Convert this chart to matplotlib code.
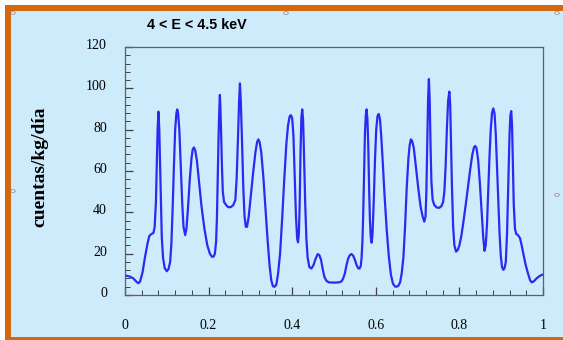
import matplotlib
matplotlib.use("Agg")
import matplotlib.pyplot as plt
import matplotlib.transforms as mtransforms
from matplotlib.patches import Rectangle, Circle
from matplotlib.ticker import MultipleLocator

# curve: phase (0..1) and counts per kg per day
phase = [0.000, 0.012, 0.020, 0.027, 0.032, 0.036, 0.042, 0.048, 0.054, 0.058,
         0.063, 0.068, 0.071, 0.074, 0.076, 0.078, 0.080, 0.082, 0.084, 0.086,
         0.088, 0.091, 0.095, 0.100, 0.104, 0.108, 0.111, 0.114, 0.117, 0.120,
         0.123, 0.125, 0.127, 0.130, 0.133, 0.137, 0.140, 0.144, 0.147, 0.151,
         0.155, 0.159, 0.162, 0.165, 0.168, 0.172, 0.177, 0.183, 0.190, 0.197,
         0.203, 0.208, 0.212, 0.215, 0.218, 0.220, 0.222, 0.224, 0.226, 0.227,
         0.228, 0.230, 0.232, 0.234, 0.237, 0.242, 0.247, 0.253, 0.259, 0.264,
         0.267, 0.270, 0.273, 0.275, 0.277, 0.280, 0.283, 0.286, 0.289, 0.292,
         0.296, 0.301, 0.307, 0.312, 0.316, 0.319, 0.322, 0.326, 0.331, 0.336,
         0.341, 0.346, 0.350, 0.354, 0.358, 0.362, 0.366, 0.371, 0.376, 0.381,
         0.386, 0.390, 0.394, 0.397, 0.400, 0.403, 0.406, 0.409, 0.412, 0.414,
         0.416, 0.418, 0.420, 0.422, 0.424, 0.426, 0.428, 0.431, 0.434, 0.437,
         0.441, 0.446, 0.451, 0.456, 0.461, 0.465, 0.469, 0.473, 0.477, 0.482,
         0.488, 0.500, 0.512, 0.518, 0.522, 0.526, 0.530, 0.534, 0.538, 0.542,
         0.546, 0.550, 0.554, 0.558, 0.561, 0.564, 0.566, 0.568, 0.570, 0.572,
         0.574, 0.576, 0.578, 0.580, 0.582, 0.584, 0.586, 0.588, 0.590, 0.592,
         0.595, 0.598, 0.601, 0.604, 0.607, 0.610, 0.613, 0.617, 0.621, 0.626,
         0.631, 0.636, 0.641, 0.646, 0.650, 0.654, 0.658, 0.662, 0.666, 0.670,
         0.674, 0.678, 0.681, 0.684, 0.687, 0.691, 0.696, 0.702, 0.707, 0.712,
         0.716, 0.719, 0.721, 0.723, 0.725, 0.727, 0.729, 0.731, 0.733, 0.736,
         0.740, 0.746, 0.752, 0.757, 0.761, 0.764, 0.767, 0.770, 0.773, 0.776,
         0.778, 0.780, 0.782, 0.785, 0.788, 0.792, 0.796, 0.800, 0.805, 0.810,
         0.816, 0.821, 0.826, 0.831, 0.835, 0.838, 0.841, 0.845, 0.849, 0.853,
         0.857, 0.860, 0.863, 0.866, 0.869, 0.872, 0.875, 0.878, 0.881, 0.884,
         0.887, 0.890, 0.893, 0.896, 0.899, 0.902, 0.905, 0.908, 0.911, 0.914,
         0.917, 0.920, 0.922, 0.924, 0.926, 0.928, 0.930, 0.933, 0.936, 0.940,
         0.945, 0.949, 0.953, 0.958, 0.964, 0.969, 0.973, 0.978, 0.985, 0.992,
         0.998]
counts = [9.5, 8.9, 8.0, 6.5, 5.7, 6.5, 11.0, 18.5, 25.0, 28.5,
          29.5, 30.0, 33.0, 45.0, 62.0, 80.0, 88.7, 80.0, 62.0, 42.0,
          28.0, 18.0, 13.0, 11.5, 12.5, 16.0, 25.0, 42.0, 62.0, 80.0,
          88.0, 89.8, 88.0, 80.0, 64.0, 44.0, 33.0, 29.0, 32.0, 43.0,
          56.0, 66.0, 70.5, 71.4, 70.0, 65.0, 55.0, 43.0, 32.0, 24.0,
          20.0, 18.5, 18.6, 20.0, 26.0, 38.0, 58.0, 78.0, 92.0, 96.8,
          92.0, 78.0, 62.0, 50.0, 45.0, 43.5, 42.5, 42.5, 43.5, 46.0,
          56.0, 74.0, 94.0, 102.4, 94.0, 74.0, 52.0, 38.0, 33.0, 33.0,
          38.0, 48.0, 60.0, 69.0, 74.0, 75.3, 74.0, 69.0, 57.0, 42.0,
          27.0, 14.0, 7.0, 4.2, 4.0, 5.0, 10.0, 20.0, 37.0, 56.0,
          73.0, 82.0, 86.5, 87.0, 85.5, 77.0, 58.0, 38.0, 27.0, 25.5,
          30.0, 45.0, 70.0, 86.0, 89.8, 85.0, 70.0, 45.0, 27.0, 18.0,
          13.5, 12.8, 14.5, 17.5, 19.8, 19.3, 17.0, 12.5, 8.8, 6.8,
          6.1, 6.0, 6.1, 6.6, 8.0, 10.5, 14.5, 17.7, 19.3, 19.8,
          19.0, 17.0, 14.5, 12.9, 12.8, 14.0, 18.0, 26.0, 40.0, 60.0,
          78.0, 87.0, 89.8, 85.0, 72.0, 52.0, 36.0, 28.0, 25.3, 29.0,
          45.0, 65.0, 80.0, 86.5, 87.6, 85.0, 77.0, 63.0, 48.0, 32.0,
          19.0, 10.0, 5.5, 4.1, 4.0, 4.5, 6.0, 10.5, 18.0, 33.0,
          52.0, 66.0, 72.5, 75.3, 74.5, 71.0, 62.0, 51.0, 43.0, 38.0,
          35.5, 38.0, 50.0, 72.0, 94.0, 104.5, 94.0, 72.0, 55.0, 46.0,
          43.5, 42.3, 42.2, 43.0, 45.0, 50.0, 62.0, 80.0, 94.0, 98.4,
          92.0, 74.0, 54.0, 33.0, 24.0, 21.0, 21.8, 24.0, 29.0, 36.0,
          45.0, 53.0, 61.0, 68.0, 71.5, 72.1, 71.0, 65.0, 54.0, 41.0,
          28.0, 21.4, 24.0, 34.0, 50.0, 67.0, 80.0, 88.0, 90.3, 88.0,
          78.0, 62.0, 45.0, 30.0, 19.0, 13.5, 12.2, 13.0, 16.0, 30.0,
          55.0, 78.0, 87.0, 89.0, 82.0, 62.0, 44.0, 32.0, 29.5, 29.0,
          27.5, 24.0, 20.0, 15.0, 10.5, 7.2, 6.1, 6.6, 8.1, 9.2,
          9.8]

x_ticks = [0, 0.2, 0.4, 0.6, 0.8, 1]
x_labels = ["0", "0.2", "0.4", "0.6", "0.8", "1"]
y_ticks = [0, 20, 40, 60, 80, 100, 120]

W, H = 563, 340
fig = plt.figure(figsize=(W / 100, H / 100), dpi=100, facecolor="white")

# slide frame: orange border and light blue panel
fig.patches.append(Rectangle((5 / W, 0), 1, 1 - 5 / H, transform=fig.transFigure,
                             facecolor="#d2690f", edgecolor="none", zorder=-3))
fig.patches.append(Rectangle((11 / W, 3 / H), 1, 1 - 14 / H, transform=fig.transFigure,
                             facecolor="#cdebfb", edgecolor="none", zorder=-2))
for cx, cy in [(13, 13), (286, 13), (557, 13), (13, 191), (557, 195)]:
    fig.patches.append(Circle((cx / W, 1 - cy / H), 2.2 / W, transform=fig.transFigure,
                              facecolor="white", edgecolor="#888888", lw=0.6, zorder=-1))

ax = fig.add_axes([125 / W, 1 - 295 / H, 418 / W, 248 / H])
ax.set_facecolor("none")
ax.plot(phase, counts, color="#2a2af2", lw=1.6, solid_joinstyle="round")

ax.set_xlim(0, 1)
ax.set_ylim(0, 120)
ax.set_xticks(x_ticks)
ax.set_xticklabels(x_labels)
ax.set_yticks(y_ticks)
ax.xaxis.set_minor_locator(MultipleLocator(0.04))
ax.yaxis.set_minor_locator(MultipleLocator(4))

for s in ax.spines.values():
    s.set_color("#606060")
    s.set_linewidth(0.9)

ax.tick_params(axis="both", which="both", direction="in", colors="#404040",
               labelcolor="black", labelsize=10)
ax.tick_params(axis="both", which="major", length=6, width=0.9)
ax.tick_params(axis="both", which="minor", length=3.5, width=0.7)
ax.tick_params(axis="x", which="major", pad=17)
ax.tick_params(axis="y", which="major", pad=13)
for lab in ax.get_xticklabels() + ax.get_yticklabels():
    lab.set_fontfamily("Liberation Serif")
shift = mtransforms.ScaledTranslation(0, 3 / 100, fig.dpi_scale_trans)
for lab in ax.get_yticklabels():
    lab.set_transform(lab.get_transform() + shift)

ax.set_ylabel("cuentas/kg/día", family="Liberation Serif", fontweight="bold",
              fontsize=14, va="center")
ax.yaxis.set_label_coords(-0.203, 0.516)

fig.text(147 / W, 1 - 25 / H, "4 < E < 4.5 keV", family="Liberation Sans",
         fontweight="bold", fontsize=10.3, ha="left", va="center")

fig.savefig("out.png", dpi=100, facecolor=fig.get_facecolor())
